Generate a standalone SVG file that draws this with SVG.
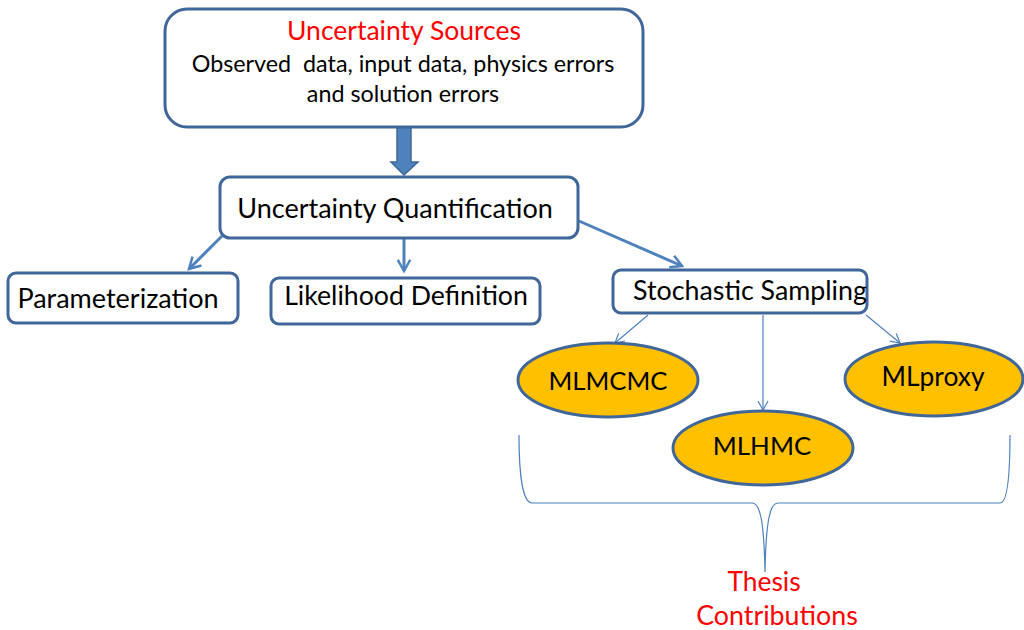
<svg xmlns="http://www.w3.org/2000/svg" width="1024" height="630" viewBox="0 0 1024 630">
  <style>
    .box { fill: #ffffff; stroke: #41679a; stroke-width: 3; }
    .oval { fill: #ffc000; stroke: #41679a; stroke-width: 3; }
    .lbl { font-family: Lato, "Open Sans", sans-serif; fill: #000000; text-anchor: middle; }
    .red { font-family: Lato, "Open Sans", sans-serif; fill: #ff0000; text-anchor: middle; }
    .link { stroke: #4f81bd; fill: none; stroke-width: 3; }
    .thin { stroke: #4f81bd; fill: none; stroke-width: 1.2; }
  </style>
  <defs>
    <marker id="chev" viewBox="0 0 12 12" refX="10" refY="6" markerWidth="5" markerHeight="5" orient="auto" markerUnits="strokeWidth">
      <path d="M1,1 L10,6 L1,11" fill="none" stroke="#4f81bd" stroke-width="2"/>
    </marker>
    <marker id="chevThin" viewBox="0 0 12 12" refX="10" refY="6" markerWidth="10" markerHeight="10" orient="auto" markerUnits="strokeWidth">
      <path d="M1,1 L10,6 L1,11" fill="none" stroke="#4f81bd" stroke-width="1.2"/>
    </marker>
  </defs>
  <rect width="1024" height="630" fill="#ffffff"/>

  <!-- connectors -->
  <g id="connectors">
    <path d="M397,127 H411 V162 H418 L404,175 L391,162 H397 Z" fill="#4f81bd" stroke="#3f6797" stroke-width="1.5"/>
    <line class="link" x1="222" y1="236" x2="189" y2="269" marker-end="url(#chev)"/>
    <line class="link" x1="404" y1="239" x2="404" y2="271" marker-end="url(#chev)"/>
    <line class="link" x1="579" y1="221" x2="682" y2="266" marker-end="url(#chev)"/>
    <line class="thin" x1="648" y1="315" x2="615" y2="343" marker-end="url(#chevThin)"/>
    <line class="thin" x1="763" y1="315" x2="763" y2="410" marker-end="url(#chevThin)"/>
    <line class="thin" x1="866" y1="315" x2="900" y2="343" marker-end="url(#chevThin)"/>
    <path class="thin" d="M519,435 C519,470 522,503 532,503 H752 C760,503 764,520 765,572 C766,520 770,503 778,503 H1000 C1008,503 1010,470 1010,435"/>
  </g>

  <g id="sources">
    <rect class="box" x="165" y="9" width="478" height="118" rx="22"/>
    <text class="red" x="404" y="40" font-size="26.5">Uncertainty Sources</text>
    <text class="lbl" x="403" y="72" font-size="23.3" xml:space="preserve">Observed  data, input data, physics errors</text>
    <text class="lbl" x="403" y="102" font-size="23.3">and solution errors</text>
  </g>

  <g id="uq">
    <rect class="box" x="220" y="177" width="358" height="61" rx="10"/>
    <text class="lbl" x="395" y="218" font-size="27">Uncertainty Quantification</text>
  </g>

  <g id="param">
    <rect class="box" x="8" y="273" width="230" height="50" rx="8"/>
    <text class="lbl" x="118" y="308" font-size="27">Parameterization</text>
  </g>

  <g id="likelihood">
    <rect class="box" x="271" y="278" width="269" height="46" rx="8"/>
    <text class="lbl" x="406" y="305" font-size="26.7">Likelihood Definition</text>
  </g>

  <g id="sampling">
    <rect class="box" x="613" y="270" width="254" height="43" rx="8"/>
    <text class="lbl" x="750" y="300" font-size="26.8">Stochastic Sampling</text>
  </g>

  <g id="mlmcmc">
    <ellipse class="oval" cx="608" cy="380" rx="90" ry="37"/>
    <text class="lbl" x="608" y="390" font-size="25.7">MLMCMC</text>
  </g>

  <g id="mlhmc">
    <ellipse class="oval" cx="763" cy="448" rx="90" ry="37"/>
    <text class="lbl" x="762" y="455" font-size="25.9">MLHMC</text>
  </g>

  <g id="mlproxy">
    <ellipse class="oval" cx="934" cy="379" rx="89" ry="37"/>
    <text class="lbl" x="933" y="386" font-size="26.4">MLproxy</text>
  </g>

  <g id="contributions">
    <text class="red" x="764" y="591" font-size="26.4">Thesis</text>
    <text class="red" x="777" y="625" font-size="26.8">Contributions</text>
  </g>
</svg>
